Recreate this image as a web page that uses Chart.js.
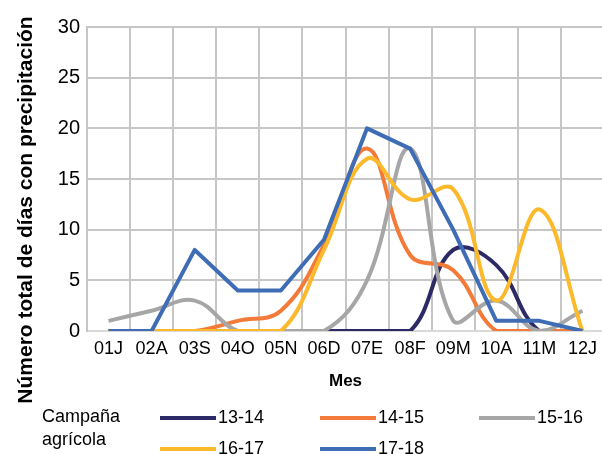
<!DOCTYPE html>
<html>
<head>
<meta charset="utf-8">
<script src="https://cdn.jsdelivr.net/npm/chart.js@4.4.1/dist/chart.umd.min.js"></script>
<style>
  body { margin: 0; width: 602px; height: 454px; overflow: hidden; background: #fff; font-family: "Liberation Sans", Arial, sans-serif; }
  #wrap { position: relative; width: 606px; height: 454px; }
  .lg { position: absolute; font-size: 18px; color: #000; line-height: 20px; white-space: nowrap; }
  .sw { position: absolute; height: 4px; width: 56px; }
</style>
</head>
<body>
<div id="wrap">
  <canvas id="c" width="606" height="454"></canvas>
  <div id="legend"></div>
</div>
<script>
// meses de la campaña (julio a junio)
const meses = ['01J', '02A', '03S', '04O', '05N', '06D', '07E', '08F', '09M', '10A', '11M', '12J'];

// días con precipitación por campaña
const c1314 = [0, 0, 0, 0, 0, 0, 0, 0, 8, 6.5, 0, 0];
const c1415 = [0, 0, 0, 1, 2, 8.5, 18, 7.5, 6, 0, 0, 0];
const c1516 = [1, 2, 3, 0, 0, 0, 5, 18, 1, 3, 0, 2];
const c1617 = [0, 0, 0, 0, 0, 8, 17, 13, 14, 3, 12, 0];
const c1718 = [0, 0, 8, 4, 4, 9, 20, 18, 10, 1, 1, 0];

const campanas = ['13-14', '14-15', '15-16', '16-17', '17-18'];
const valores = [c1314, c1415, c1516, c1617, c1718];
const colores = ['#2b2a66', '#f47a3a', '#a6a6a6', '#fbb92b', '#3e6db5'];

const FONT = '"Liberation Sans", Arial, sans-serif';
Chart.defaults.font.family = FONT;

// title on the y axis, drawn by hand so it can be centred on the whole page
const yTitle = {
  id: 'yTitle',
  afterDraw(chart) {
    const ctx = chart.ctx;
    ctx.save();
    ctx.translate(32, 210);
    ctx.rotate(-Math.PI / 2);
    ctx.font = 'bold 21px ' + FONT;
    ctx.fillStyle = '#000';
    ctx.textAlign = 'center';
    ctx.fillText('Número total de días con precipitación', 0, 0);
    ctx.restore();
  }
};

const datasets = valores.map((v, i) => ({
  label: campanas[i],
  data: v,
  borderColor: colores[i],
  backgroundColor: colores[i],
  borderWidth: 4,
  pointRadius: 0,
  fill: false,
  tension: i === 4 ? 0 : 0.4,
  borderJoinStyle: 'round',
  order: 4 - i
}));

new Chart(document.getElementById('c'), {
  type: 'line',
  data: { labels: meses, datasets: datasets },
  plugins: [yTitle],
  options: {
    responsive: false,
    animation: false,
    devicePixelRatio: 1,
    layout: { padding: { top: 27, right: 2, bottom: 62, left: 0 } },
    plugins: { legend: { display: false }, tooltip: { enabled: false } },
    scales: {
      x: {
        offset: true,
        grid: { offset: true, color: '#c6c6c6', lineWidth: 2, drawTicks: false },
        border: { color: '#d9d9d9', width: 2 },
        ticks: { color: '#000', font: { size: 18 }, padding: 7, maxRotation: 0, autoSkip: false },
        title: { display: true, text: 'Mes', color: '#000', font: { size: 17, weight: 'bold' }, padding: { top: 5, bottom: 0 } }
      },
      y: {
        min: 0,
        max: 30,
        ticks: { stepSize: 5, color: '#000', font: { size: 20 }, padding: 7 },
        grid: { color: '#c6c6c6', lineWidth: 2, drawTicks: false },
        border: { color: '#c6c6c6', width: 2 },
        afterFit(scale) { scale.width = 87; }
      }
    }
  }
});

// leyenda: título a la izquierda y tres columnas
const legend = document.getElementById('legend');
const t1 = document.createElement('div');
t1.className = 'lg';
t1.style.left = '42px';
t1.style.top = '405px';
t1.style.lineHeight = '23px';
t1.innerHTML = 'Campaña<br>agrícola';
legend.appendChild(t1);

const colX = [160, 320, 479];
const rowY = [418, 449];
campanas.forEach((name, i) => {
  const x = colX[i % 3];
  const y = rowY[Math.floor(i / 3)];
  const sw = document.createElement('div');
  sw.className = 'sw';
  sw.style.left = x + 'px';
  sw.style.top = (y - 2) + 'px';
  sw.style.background = colores[i];
  legend.appendChild(sw);
  const lb = document.createElement('div');
  lb.className = 'lg';
  lb.style.left = (x + 58) + 'px';
  lb.style.top = (y - 11) + 'px';
  lb.textContent = name;
  legend.appendChild(lb);
});
</script>
</body>
</html>
